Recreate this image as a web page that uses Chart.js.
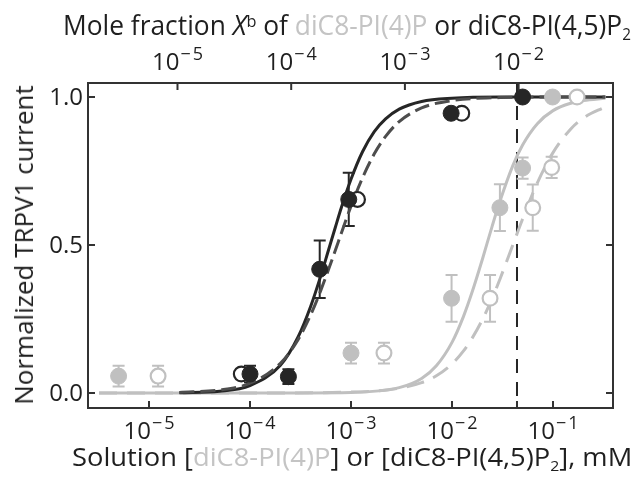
<!DOCTYPE html>
<html>
<head>
<meta charset="utf-8">
<script src="https://cdn.jsdelivr.net/npm/chart.js@4.4.0/dist/chart.umd.min.js"></script>
<style>
	body { margin: 0; background: #fff; }
	#wrap { position: relative; width: 644px; height: 480px; font-family: "Open Sans", sans-serif; color: #1f1f1f; }
	canvas { position: absolute; left: 0; top: 0; }
	.lbl { position: absolute; white-space: nowrap; line-height: 1; transform-origin: left center; }
	.g { color: #c4c4c4; }
	.sup { font-size: 62%; vertical-align: 0.5em; }
	.sub { font-size: 58%; vertical-align: -0.3em; }
	#tTop { left: 63px; top: 11px; font-size: 27px; }
	#tBottom { left: 72px; top: 443px; font-size: 26px; }
	#tLeft { left: 23px; top: 245px; font-size: 26px; transform-origin: center center; }
</style>
</head>
<body>
<div id="wrap">
	<canvas id="chart" width="644" height="480"></canvas>
	<div class="lbl" id="tTop">Mole fraction <i>X</i><span class="sup">b</span> of <span class="g">diC8-PI(4)P</span> or diC8-PI(4,5)P<span class="sub">2</span></div>
	<div class="lbl" id="tBottom">Solution [<span class="g">diC8-PI(4)P</span>] or [diC8-PI(4,5)P<span class="sub">2</span>], mM</div>
	<div class="lbl" id="tLeft">Normalized TRPV1 current</div>
</div>
<script>
// ---- values ----
const bottomTickExps = [-5, -4, -3, -2, -1];
const topTickExps = [-5, -4, -3, -2];
const yTicks = [0, 0.5, 1];
const yTickLabels = ['0.0', '0.5', '1.0'];
const refLineX = 0.044; // vertical dashed line, mM

// diC8-PI(4,5)P2 (black)
const pip2FilledX = [1.0e-4, 2.4e-4, 4.9e-4, 9.5e-4, 9.8e-3, 0.05];
const pip2FilledY = [0.064, 0.055, 0.418, 0.654, 0.945, 1.0];
const pip2FilledErr = [0.028, 0.025, 0.097, 0.09, 0, 0];
const pip2OpenX = [8.2e-5, 1.16e-3, 0.0125];
const pip2OpenY = [0.064, 0.654, 0.945];

// diC8-PI(4)P (gray)
const pi4pFilledX = [5e-6, 1e-3, 9.9e-3, 0.0298, 0.05, 0.099];
const pi4pFilledY = [0.057, 0.135, 0.32, 0.626, 0.76, 1.0];
const pi4pFilledErr = [0.035, 0.035, 0.079, 0.079, 0.036, 0];
const pi4pOpenX = [1.23e-5, 2.12e-3, 0.0238, 0.063, 0.097, 0.173];
const pi4pOpenY = [0.057, 0.135, 0.32, 0.626, 0.762, 1.0];
const pi4pOpenErr = [0.035, 0.035, 0.079, 0.078, 0.036, 0];

// fit curves
const pip2CurveX = [2e-5, 5e-5, 1e-4, 2e-4, 3e-4, 4e-4, 5e-4, 6e-4, 7e-4, 8e-4, 1e-3, 1.3e-3, 1.7e-3, 2.2e-3, 3e-3, 5e-3, 1e-2, 3e-2, 0.1, 0.33];
const pip2SolidY = [0.001, 0.006, 0.025, 0.094, 0.19, 0.294, 0.394, 0.484, 0.56, 0.625, 0.722, 0.815, 0.883, 0.926, 0.959, 0.985, 0.996, 1.0, 1.0, 1.0];
const pip2DashY = [0.002, 0.010, 0.033, 0.10, 0.181, 0.265, 0.345, 0.418, 0.482, 0.539, 0.631, 0.727, 0.808, 0.867, 0.917, 0.963, 0.988, 0.998, 1.0, 1.0];
const pi4pCurveX = [3.2e-6, 1e-4, 1e-3, 3e-3, 5e-3, 7e-3, 1e-2, 1.3e-2, 1.6e-2, 2e-2, 2.5e-2, 3e-2, 4e-2, 5e-2, 7e-2, 0.1, 0.15, 0.2, 0.33];
const pi4pSolidY = [0, 0, 0.002, 0.018, 0.049, 0.092, 0.171, 0.259, 0.346, 0.452, 0.564, 0.65, 0.768, 0.838, 0.91, 0.954, 0.979, 0.988, 0.996];
const pi4pDashY = [0, 0, 0.003, 0.016, 0.035, 0.058, 0.098, 0.142, 0.188, 0.248, 0.32, 0.387, 0.5, 0.588, 0.71, 0.812, 0.892, 0.929, 0.967];

const DARK = '#262626';
const DARK_DASH = '#4d4d4d';
const GRAY = '#c0c0c0';
const FONT = '"Open Sans", sans-serif';

function pts(xs, ys) {
	return xs.map((v, i) => ({ x: v, y: ys[i] }));
}

function curve(xs, ys, color, dash, order) {
	return {
		data: pts(xs, ys), showLine: true, borderColor: color, borderWidth: 3,
		borderDash: dash, pointRadius: 0, cubicInterpolationMode: 'monotone', order: order
	};
}

function marks(xs, ys, color, open, order) {
	return {
		data: pts(xs, ys), showLine: false, pointRadius: open ? 7.4 : 8,
		backgroundColor: open ? '#fff' : color, borderColor: color,
		borderWidth: open ? 2.2 : 1, order: order
	};
}

const errorSets = [
	{ xs: pi4pFilledX, ys: pi4pFilledY, err: pi4pFilledErr, color: GRAY },
	{ xs: pi4pOpenX, ys: pi4pOpenY, err: pi4pOpenErr, color: GRAY },
	{ xs: pip2FilledX, ys: pip2FilledY, err: pip2FilledErr, color: DARK }
];

// "10" with a raised exponent, centred on cx
function drawPow(ctx, exp, cx, baseline) {
	const base = '10', digit = String(Math.abs(exp));
	ctx.font = '24px ' + FONT;
	const wb = ctx.measureText(base).width;
	ctx.font = '18px ' + FONT;
	const wm = ctx.measureText('\u2212').width;
	const wd = ctx.measureText(digit).width;
	const total = wb + 1 + wm + 2 + wd;
	const left = cx - total / 2;
	ctx.textAlign = 'left';
	ctx.textBaseline = 'alphabetic';
	ctx.font = '24px ' + FONT;
	ctx.fillText(base, left, baseline);
	ctx.font = '18px ' + FONT;
	ctx.fillText('\u2212', left + wb + 1, baseline - 10);
	ctx.fillText(digit, left + wb + 1 + wm + 2, baseline - 10);
}

const decor = {
	id: 'decor',
	beforeDatasetsDraw(chart) {
		const { ctx, chartArea: a, scales: { x, y } } = chart;
		ctx.save();
		// vertical reference line
		const vx = x.getPixelForValue(refLineX);
		ctx.strokeStyle = DARK;
		ctx.lineWidth = 2;
		ctx.setLineDash([14, 9]);
		ctx.beginPath();
		ctx.moveTo(vx, a.top);
		ctx.lineTo(vx, a.bottom);
		ctx.stroke();
		ctx.setLineDash([]);
		// error bars
		errorSets.forEach(s => {
			ctx.strokeStyle = s.color;
			ctx.lineWidth = 2;
			s.xs.forEach((v, i) => {
				if (!s.err[i]) return;
				const px = x.getPixelForValue(v);
				const hi = y.getPixelForValue(s.ys[i] + s.err[i]);
				const lo = y.getPixelForValue(s.ys[i] - s.err[i]);
				ctx.beginPath();
				ctx.moveTo(px, hi); ctx.lineTo(px, lo);
				ctx.moveTo(px - 6, hi); ctx.lineTo(px + 6, hi);
				ctx.moveTo(px - 6, lo); ctx.lineTo(px + 6, lo);
				ctx.stroke();
			});
		});
		ctx.restore();
	},
	afterDatasetsDraw(chart) {
		const { ctx, chartArea: a, scales: { x, x2, y } } = chart;
		ctx.save();
		ctx.strokeStyle = '#333';
		ctx.lineWidth = 2;
		ctx.strokeRect(a.left, a.top, a.right - a.left, a.bottom - a.top);
		ctx.beginPath();
		bottomTickExps.concat([Math.log10(refLineX)]).forEach(e => {
			const px = x.getPixelForValue(Math.pow(10, e));
			ctx.moveTo(px, a.bottom); ctx.lineTo(px, a.bottom - 7);
		});
		topTickExps.forEach(e => {
			const px = x2.getPixelForValue(Math.pow(10, e));
			ctx.moveTo(px, a.top); ctx.lineTo(px, a.top + 7);
		});
		yTicks.forEach(v => {
			const py = y.getPixelForValue(v);
			ctx.moveTo(a.left, py); ctx.lineTo(a.left + 7, py);
			ctx.moveTo(a.right, py); ctx.lineTo(a.right - 7, py);
		});
		ctx.stroke();

		ctx.fillStyle = '#1f1f1f';
		bottomTickExps.forEach(e => drawPow(ctx, e, x.getPixelForValue(Math.pow(10, e)), a.bottom + 31));
		topTickExps.forEach(e => drawPow(ctx, e, x2.getPixelForValue(Math.pow(10, e)), a.top - 13));
		ctx.font = '24px ' + FONT;
		ctx.textAlign = 'right';
		ctx.textBaseline = 'alphabetic';
		yTicks.forEach((v, i) => ctx.fillText(yTickLabels[i], a.left - 5, y.getPixelForValue(v) + 8));
		ctx.restore();
	}
};

const hidden = { display: false };

new Chart(document.getElementById('chart'), {
	type: 'scatter',
	data: {
		datasets: [
			curve(pi4pCurveX, pi4pSolidY, GRAY, [], 9),
			curve(pi4pCurveX, pi4pDashY, GRAY, [18, 10], 8),
			curve(pip2CurveX, pip2SolidY, DARK, [], 7),
			curve(pip2CurveX, pip2DashY, DARK_DASH, [15, 6], 6),
			marks(pi4pOpenX, pi4pOpenY, GRAY, true, 5),
			marks(pi4pFilledX, pi4pFilledY, GRAY, false, 4),
			marks(pip2OpenX, pip2OpenY, DARK, true, 3),
			marks(pip2FilledX, pip2FilledY, DARK, false, 2)
		]
	},
	options: {
		responsive: false,
		animation: false,
		layout: { padding: { left: 88, top: 83, right: 31, bottom: 72 } },
		plugins: { legend: hidden, tooltip: { enabled: false } },
		scales: {
			x: { type: 'logarithmic', display: false, min: Math.pow(10, -5.604), max: Math.pow(10, -0.406) },
			x2: { type: 'logarithmic', display: false, position: 'top', min: Math.pow(10, -5.787), max: Math.pow(10, -1.170) },
			y: { type: 'linear', display: false, min: -0.0507, max: 1.0473 }
		}
	},
	plugins: [decor]
});

// squeeze the titles to the widths they have in the figure
function fitWidth(id, target, rotated) {
	const el = document.getElementById(id);
	const s = target / el.offsetWidth;
	el.style.transform = rotated
		? 'translate(-50%, -50%) rotate(-90deg) scaleX(' + s + ')'
		: 'scaleX(' + s + ')';
}
fitWidth('tTop', 568, false);
fitWidth('tBottom', 560, false);
fitWidth('tLeft', 320, true);
</script>
</body>
</html>
